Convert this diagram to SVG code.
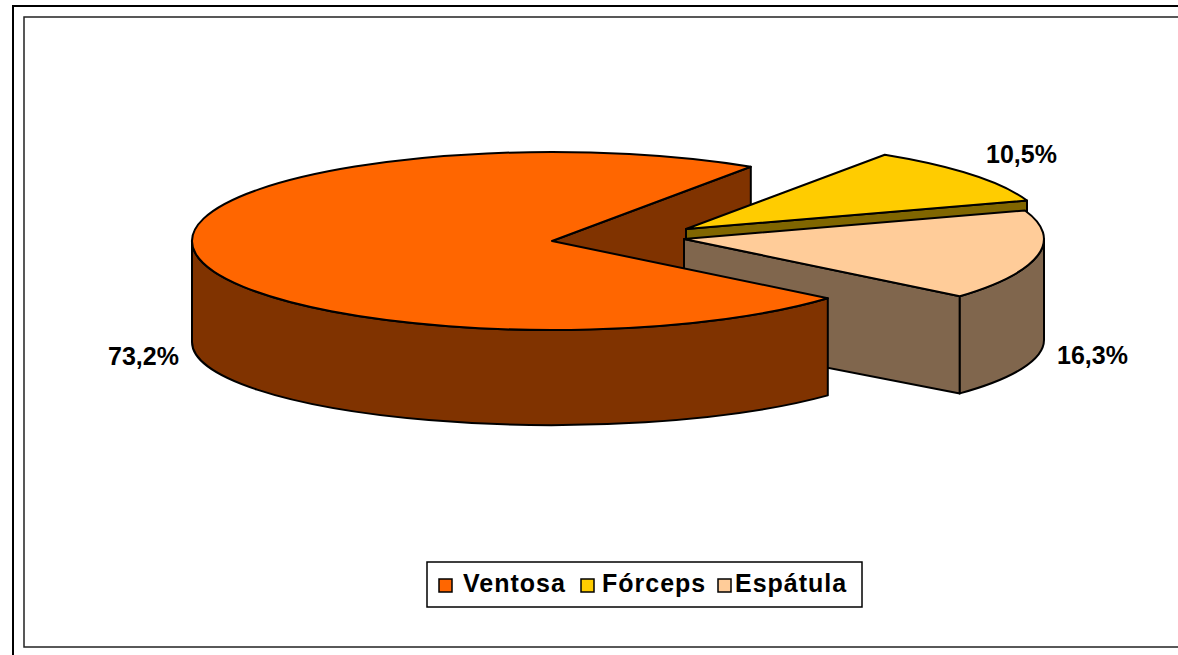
<svg xmlns="http://www.w3.org/2000/svg" width="1178" height="655" viewBox="0 0 1178 655">
<style>
.e{stroke:#000;stroke-width:2;stroke-linejoin:round}
.lbl{font-family:"Liberation Sans",Arial,sans-serif;font-weight:bold;font-size:25px;fill:#000}
.leg{font-family:"Liberation Sans",Arial,sans-serif;font-weight:bold;font-size:25px;fill:#000;letter-spacing:1px}
.sw{stroke:#000;stroke-width:1.5}
</style>
<rect x="0" y="0" width="1178" height="655" fill="#fff"/>
<g id="frame" fill="none">
<rect x="13" y="6" width="1190" height="700" stroke="#000" stroke-width="2"/>
<rect x="24" y="17" width="1180" height="630" stroke="#222" stroke-width="1.5"/>
</g>
<g id="ventosa-inner">
<path class="e" fill="#803300" d="M552,241 L750.8,166.8 L750.8,272 L552,342 Z"/>
</g>
<g id="forceps">
<path class="e" fill="#806600" d="M686,229 L1027,200.5 L1027,297 L686,326 Z"/>
<path class="e" fill="#FFCC00" d="M686,229 L884.8,154.8 A360,89 0 0 1 1027,200.5 Z"/>
</g>
<g id="espatula">
<path class="e" fill="#80664D" d="M684,239 L959.8,296.2 L959.8,393.4 L684,340 Z"/>
<path class="e" fill="#80664D" d="M1044,239 A360,89 0 0 1 959.8,296.2 L959.8,393.4 A360,83 0 0 0 1044,340 Z"/>
<path class="e" fill="#FFCC99" d="M684,239 L1025,210.5 A360,89 0 0 1 959.8,296.2 Z"/>
</g>
<g id="ventosa">
<path class="e" fill="#803300" d="M827.8,298.2 A360,89 0 0 1 192,241 L192,342 A360,83 0 0 0 827.8,395.4 Z"/>
<path class="e" fill="#FF6600" d="M552,241 L827.8,298.2 A360,89 0 1 1 750.8,166.8 Z"/>
</g>
<g id="labels">
<text class="lbl" x="108" y="365">73,2%</text>
<text class="lbl" x="986" y="163">10,5%</text>
<text class="lbl" x="1057" y="364">16,3%</text>
</g>
<g id="legend">
<rect x="427" y="562" width="435" height="45" fill="#fff" stroke="#000" stroke-width="1.5"/>
<rect class="sw" x="439" y="579" width="13" height="13" fill="#FF6600"/>
<text class="leg" x="463" y="592">Ventosa</text>
<rect class="sw" x="581" y="579" width="13" height="13" fill="#FFCC00"/>
<text class="leg" x="602" y="592">Fórceps</text>
<rect class="sw" x="718" y="579" width="13" height="13" fill="#FFCC99"/>
<text class="leg" x="735" y="592">Espátula</text>
</g>
</svg>
